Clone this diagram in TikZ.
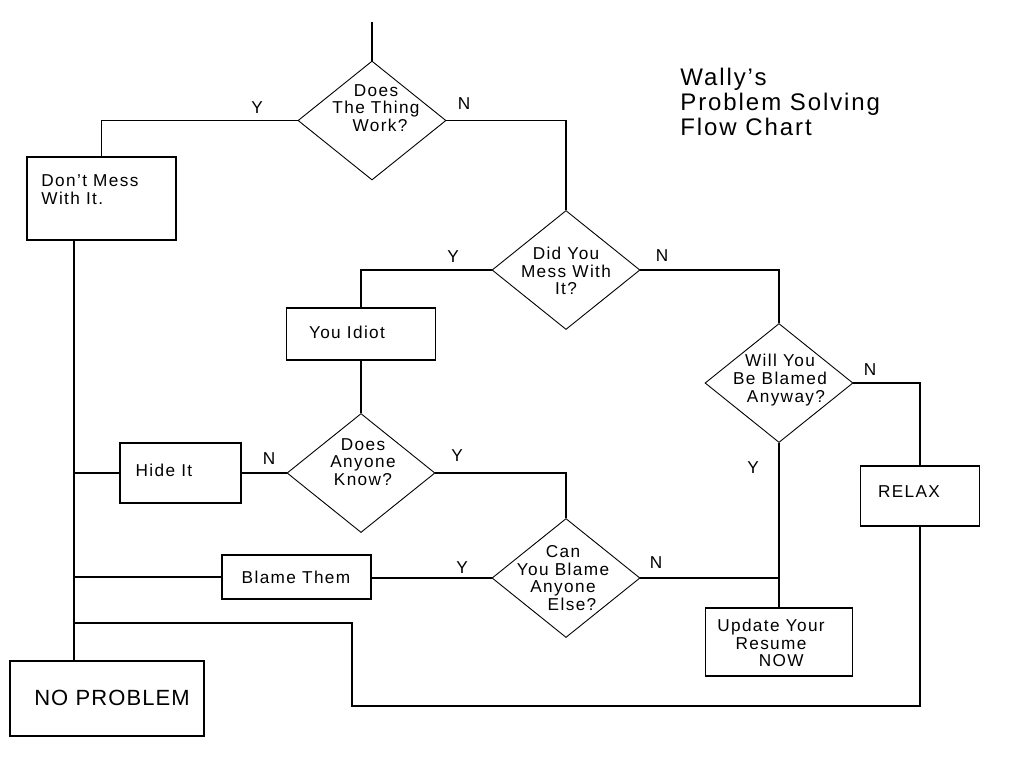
\documentclass[tikz,border=0pt]{standalone}
\usepackage{fontspec}
\setmainfont{Liberation Sans}
\newfontfamily\wfont[LetterSpace=8]{Liberation Sans}
\newfontfamily\nfont[LetterSpace=5]{Liberation Sans}
\usepackage{tikz}
\usetikzlibrary{shapes.geometric}
\tikzset{
  box/.style={draw,rectangle,inner sep=0pt,line width=0.6pt},
  dia/.style={draw,diamond,inner sep=0pt,line width=0.45pt,minimum width=74pt,minimum height=59.5pt},
  sz/.style 2 args={minimum width=#1*0.5pt,minimum height=#2*0.5pt},
  txt/.style={font=\wfont\fontsize{8.6}{8.8}\selectfont,align=center,inner sep=0pt},
  yn/.style={font=\wfont\fontsize{8.6}{8.8}\selectfont,inner sep=0pt},
  ln/.style={line width=0.6pt}
}
\begin{document}
\begin{tikzpicture}[x=0.5pt,y=-0.5pt]
\useasboundingbox (0,0) rectangle (1024,768);
% title
\node[align=left,anchor=west,inner sep=0pt,font=\wfont\fontsize{12}{12.5}\selectfont] (title) at (680,102) {Wally’s\\Problem Solving\\Flow Chart};
% decisions
\node[dia] (d1) at (372,120.5) {};
\node[dia] (d2) at (566,270) {};
\node[dia] (d3) at (361,473) {};
\node[dia] (d4) at (566,578) {};
\node[dia] (d5) at (779,383) {};
\node[txt] (d1t) at (376,108) {Does\\The Thing\\\hspace{4pt}Work?};
\node[txt] (d2t) at (566,271) {Did You\\Mess With\\It?\hspace{8pt}};
\node[txt] (d3t) at (363,462) {Does\\Anyone\\Know?};
\node[txt] (d4t) at (563,578) {Can\\You Blame\\Anyone\\\hspace{9pt}Else?};
\node[txt] (d5t) at (780,380) {Will You\\Be Blamed\\\hspace{6pt}Anyway?};
% boxes
\node[box,sz={149}{83}] (mess) at (101.5,198.5) {};
\node[box,sz={149}{52}] (idiot) at (361,334) {};
\node[box,sz={121}{60}] (hide) at (180.5,473) {};
\node[box,sz={149}{44}] (blame) at (296.5,577) {};
\node[box,sz={119}{60}] (relax) at (920,496) {};
\node[box,sz={147}{68}] (upd) at (779,642) {};
\node[box,sz={194}{75}] (noprob) at (107,698.5) {};
\node[txt,align=left,anchor=west] (messt) at (41,189.5) {Don’t Mess\\With It.};
\node[txt] (idiott) at (347,332) {You Idiot};
\node[txt] (hidet) at (164,470) {Hide It};
\node[txt] (blamet) at (296,577) {Blame Them};
\node[txt] (relaxt) at (909,492) {RELAX};
\node[txt] (updt) at (771,643) {Update Your\\Resume\\\hspace{1.2em}NOW};
\node[inner sep=0pt,font=\nfont\fontsize{11}{11}\selectfont] (noprobt) at (112,698) {NO PROBLEM};
% connectors
\coordinate (start) at (372,22);
\coordinate (spine) at (74,623);
\coordinate (loop) at (352,706);
\draw[ln] (start) -- (d1.north);
\draw[ln] (d1.west) -| (mess.north);
\draw[ln] (d1.east) -| (d2.north);
\draw[ln] (d2.west) -| (idiot.north);
\draw[ln] (d2.east) -| (d5.north);
\draw[ln] (idiot.south) -- (d3.north);
\draw[ln] (d3.west) -- (hide.east);
\draw[ln] (hide.west) -- (hide.west -| spine);
\draw[ln] (d3.east) -| (d4.north);
\draw[ln] (d4.west) -- (d4.west -| blame.east);
\draw[ln] (blame.west) -- (blame.west -| spine);
\draw[ln] (d4.east) -- (d4.east -| d5.south);
\draw[ln] (d5.south) -- (upd.north);
\draw[ln] (d5.east) -| (relax.north);
\draw[ln] (relax.south) |- (loop) |- (spine);
\draw[ln] (mess.south -| spine) -- (noprob.north -| spine);
% Y / N labels
\node[yn] (y1) at (257,108) {Y};
\node[yn] (n1) at (464,104) {N};
\node[yn] (y2) at (453,257) {Y};
\node[yn] (n2) at (662,256) {N};
\node[yn] (n3) at (269,459) {N};
\node[yn] (y3) at (457,456) {Y};
\node[yn] (y4) at (462,568) {Y};
\node[yn] (n4) at (656,563) {N};
\node[yn] (n5) at (870,370) {N};
\node[yn] (y5) at (753,468) {Y};
\end{tikzpicture}
\end{document}
